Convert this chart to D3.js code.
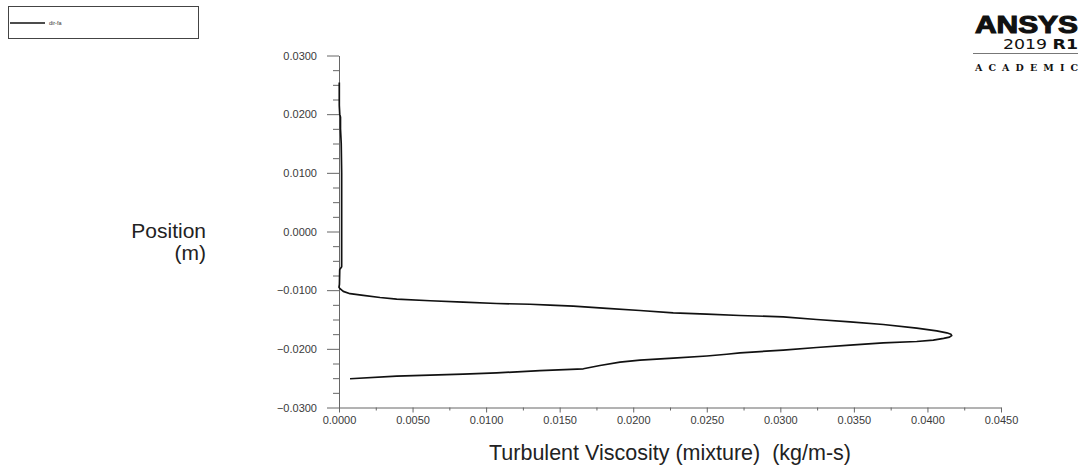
<!DOCTYPE html>
<html>
<head>
<meta charset="utf-8">
<script src="https://cdn.jsdelivr.net/npm/d3@7"></script>
<style>
  html, body { margin: 0; padding: 0; background: #fff; }
  svg { display: block; font-family: "Liberation Sans", Arial, sans-serif; }
</style>
</head>
<body>
<svg id="chart" width="1082" height="471"></svg>
<script>
// ---- data (path order, as plotted by Fluent) ----
const viscosity = [
  0.00002, 0.00002, 0.00005, 0.0001, 0.0001, 0.00015, 0.00018, 0.00018, 0.00018, 0.00005, 0.00003, 0.0, 0.00005,
  0.00029, 0.00075, 0.00165, 0.00279, 0.00392, 0.0062, 0.00845, 0.01072, 0.01298, 0.01434, 0.01593, 0.0182,
  0.02046, 0.02272, 0.025, 0.02726, 0.0302, 0.03247, 0.03474, 0.037, 0.03927, 0.04063, 0.04131, 0.04160, 0.04165,
  0.04150, 0.04110, 0.0404, 0.03927, 0.037, 0.03474, 0.03247, 0.0302, 0.02862, 0.02726, 0.02635, 0.025, 0.02272,
  0.02046, 0.0191, 0.01774, 0.01661, 0.01366, 0.01072, 0.00845, 0.00392, 0.00075
];
const position = [
  0.0254, 0.0215, 0.0200, 0.0195, 0.0175, 0.0150, 0.0100, 0.0000, -0.0060, -0.0065, -0.0090, -0.0095, -0.0097,
  -0.0102, -0.0106, -0.0109, -0.01125, -0.01153, -0.0118, -0.01205, -0.01227, -0.0124, -0.01256, -0.01273, -0.01312,
  -0.01347, -0.01386, -0.0141, -0.01432, -0.01455, -0.015, -0.0154, -0.01585, -0.01648, -0.01693, -0.01727, -0.01752, -0.01775,
  -0.01800, -0.01822, -0.01853, -0.01875, -0.01897, -0.01937, -0.01977, -0.02023, -0.02047, -0.02069, -0.02092, -0.02122, -0.02160,
  -0.02193, -0.02228, -0.02284, -0.0234, -0.0237, -0.0241, -0.0243, -0.02466, -0.0251
];
const xTicks = [0, 0.005, 0.01, 0.015, 0.02, 0.025, 0.03, 0.035, 0.04, 0.045];
const yTicks = [-0.03, -0.02, -0.01, 0, 0.01, 0.02, 0.03];
const xLabel = "Turbulent Viscosity (mixture)  (kg/m-s)";
const yLabel = ["Position", "(m)"];
const seriesName = "dir-fa";

// ---- layout ----
const svg = d3.select("#chart");
const x = d3.scaleLinear().domain([0, 0.045]).range([339, 1001]);
const y = d3.scaleLinear().domain([-0.03, 0.03]).range([407.5, 55.5]);
const axisColor = "#666";
const textColor = "#3a3a3a";
const fmt = d3.format(".4f");

// minor ticks
const xMinor = d3.range(0, 0.0451, 0.0025).filter(v => !xTicks.some(t => Math.abs(t - v) < 1e-9));
const yMinor = d3.range(-0.03, 0.0301, 0.0025).filter(v => !yTicks.some(t => Math.abs(t - v) < 1e-9));

// Y axis
const gy = svg.append("g").attr("transform", `translate(${x(0)},0)`);
gy.call(d3.axisLeft(y).tickValues(yTicks).tickSize(12).tickSizeOuter(0).tickPadding(10)
  .tickFormat(d => fmt(d).replace("-0.0000", "0.0000")));
svg.append("g").attr("transform", `translate(${x(0)},0)`)
  .call(d3.axisLeft(y).tickValues(yMinor).tickSize(6).tickFormat("")).select(".domain").remove();

// X axis
const gx = svg.append("g").attr("transform", `translate(0,${y(-0.03)})`);
gx.call(d3.axisBottom(x).tickValues(xTicks).tickSize(5).tickSizeOuter(0).tickPadding(4).tickFormat(fmt));
svg.append("g").attr("transform", `translate(0,${y(-0.03)})`)
  .call(d3.axisBottom(x).tickValues(xMinor).tickSize(3).tickFormat("")).select(".domain").remove();

svg.selectAll(".tick line, .domain").attr("stroke", axisColor).attr("stroke-width", 1);
svg.selectAll(".tick text").attr("fill", textColor).style("font-size", "11px")
  .style("font-family", "'Liberation Sans', Arial, sans-serif");

// curve
const pts = viscosity.map((v, i) => [v, position[i]]);
svg.append("path")
  .datum(pts)
  .attr("fill", "none")
  .attr("stroke", "#111")
  .attr("stroke-width", 1.7)
  .attr("stroke-linejoin", "round")
  .attr("d", d3.line().x(d => x(d[0])).y(d => y(d[1])));

// axis titles
svg.append("text").attr("x", 670).attr("y", 460).attr("text-anchor", "middle")
  .attr("fill", "#222").style("font-size", "21.5px").style("white-space", "pre")
  .attr("xml:space", "preserve").text(xLabel);
svg.append("text").attr("x", 206).attr("y", 238).attr("text-anchor", "end")
  .attr("fill", "#222").style("font-size", "21px").text(yLabel[0]);
svg.append("text").attr("x", 206).attr("y", 260).attr("text-anchor", "end")
  .attr("fill", "#222").style("font-size", "21px").text(yLabel[1]);

// legend
const lg = svg.append("g");
lg.append("rect").attr("x", 8.5).attr("y", 6.5).attr("width", 190).attr("height", 32)
  .attr("fill", "#fff").attr("stroke", "#444").attr("stroke-width", 1);
lg.append("line").attr("x1", 10).attr("x2", 45).attr("y1", 23).attr("y2", 23)
  .attr("stroke", "#111").attr("stroke-width", 1.5);
lg.append("text").attr("x", 49).attr("y", 25).attr("fill", "#333").style("font-size", "5.5px").text(seriesName);

// ANSYS logo
const logo = svg.append("g").attr("fill", "#111");
logo.append("text").attr("x", 975).attr("y", 33).attr("textLength", 103).attr("lengthAdjust", "spacingAndGlyphs")
  .attr("stroke", "#111").attr("stroke-width", 1.1)
  .style("font-size", "24px").style("font-weight", "bold").text("ANSYS");
const yr = logo.append("text").attr("x", 1003).attr("y", 49).attr("textLength", 75).attr("lengthAdjust", "spacingAndGlyphs")
  .style("font-family", "'DejaVu Sans', sans-serif").style("font-size", "13.5px");
yr.append("tspan").text("2019 ");
yr.append("tspan").style("font-weight", "bold").text("R1");
logo.append("line").attr("x1", 973).attr("x2", 1078).attr("y1", 53.5).attr("y2", 53.5)
  .attr("stroke", "#777").attr("stroke-width", 1);
logo.append("text").attr("x", 975).attr("y", 71).attr("textLength", 103).attr("lengthAdjust", "spacing")
  .style("font-family", "'DejaVu Serif', serif")
  .style("font-size", "9.5px").style("font-weight", "bold").text("ACADEMIC");
</script>
</body>
</html>
